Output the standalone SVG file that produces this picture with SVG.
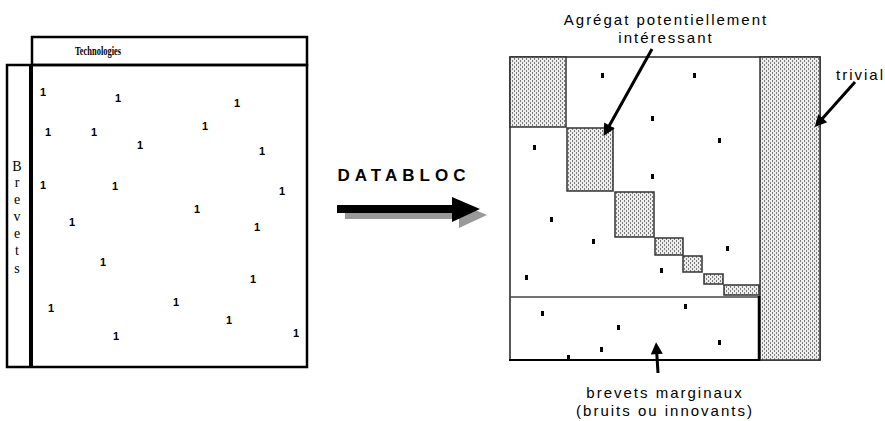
<svg xmlns="http://www.w3.org/2000/svg" width="885" height="421" viewBox="0 0 885 421">
<style>
.one{font-family:"Liberation Sans",Arial,Helvetica,sans-serif;font-size:11px;font-weight:bold;fill:#000;text-anchor:middle}
.lbl{font-family:"Liberation Sans",Arial,sans-serif;font-size:15px;letter-spacing:2px;fill:#000;text-anchor:middle}
.ser{font-family:"Liberation Serif","Times New Roman",serif;font-size:14px;fill:#000;text-anchor:middle}
.blk{fill:url(#dots);stroke:#333;stroke-width:1.5}
.dot{fill:#000}
.arr{stroke:#000;stroke-width:3;fill:none;marker-end:url(#ah)}
</style>
<defs>
<pattern id="dots" width="4" height="4" patternUnits="userSpaceOnUse">
<rect width="4" height="4" fill="#eeeeee"/>
<rect x="0" y="0" width="1" height="2" fill="#7a7a7a"/>
<rect x="2" y="2" width="1" height="2" fill="#7a7a7a"/>
</pattern>
<marker id="ah" viewBox="0 0 10 10" refX="4.3" refY="5" markerWidth="14" markerHeight="12" markerUnits="userSpaceOnUse" orient="auto">
<path d="M0,0 L10,5 L0,10 z" fill="#000"/>
</marker>
</defs>
<rect width="885" height="421" fill="#fff"/>

<g id="left-matrix">
<rect x="32" y="37" width="275" height="28" fill="none" stroke="#000" stroke-width="2.5"/>
<text x="98" y="55" font-family="Liberation Serif,serif" font-size="12" font-weight="bold" textLength="46" lengthAdjust="spacingAndGlyphs" text-anchor="middle">Technologies</text>
<rect x="7" y="65" width="300" height="302" fill="none" stroke="#000" stroke-width="2.5"/>
<rect x="29" y="65" width="4" height="302" fill="#000"/>
<g class="ser">
<text x="17" y="171">B</text>
<text x="17" y="187">r</text>
<text x="17" y="204">e</text>
<text x="17" y="221">v</text>
<text x="17" y="238">e</text>
<text x="17" y="255">t</text>
<text x="17" y="273">s</text>
</g>
<g class="one" font-family="Liberation Sans, Arial, sans-serif" font-weight="bold">
<text x="43" y="96">1</text>
<text x="118" y="102">1</text>
<text x="237" y="107">1</text>
<text x="48" y="136">1</text>
<text x="94" y="136">1</text>
<text x="205" y="130">1</text>
<text x="140" y="149">1</text>
<text x="262" y="155">1</text>
<text x="43" y="189">1</text>
<text x="115" y="190">1</text>
<text x="282" y="195">1</text>
<text x="197" y="213">1</text>
<text x="72" y="226">1</text>
<text x="257" y="231">1</text>
<text x="103" y="266">1</text>
<text x="253" y="283">1</text>
<text x="51" y="312">1</text>
<text x="176" y="306">1</text>
<text x="229" y="324">1</text>
<text x="296" y="337">1</text>
<text x="116" y="340">1</text>
</g>
</g>

<g id="databloc">
<text x="404" y="181" font-family="Liberation Sans,Arial,sans-serif" font-size="17" font-weight="bold" letter-spacing="5" text-anchor="middle">DATABLOC</text>
<polygon points="345,211 459,211 459,203 487,215 459,228 459,219 345,219" fill="#999"/>
<polygon points="337,205 452,205 452,197 480,209 452,222 452,213 337,213" fill="#000"/>
</g>

<g id="right-matrix">
<rect x="510" y="57" width="310" height="303" fill="#fff" stroke="#222" stroke-width="1.5"/>
<rect x="760" y="57" width="60" height="303" class="blk" stroke="#333"/>
<rect x="510" y="57" width="56" height="70" class="blk"/>
<rect x="567" y="128" width="46" height="63" class="blk"/>
<rect x="615" y="192" width="39" height="45" class="blk"/>
<rect x="655" y="238" width="28" height="17" class="blk"/>
<rect x="683" y="256" width="19" height="16" class="blk"/>
<rect x="704" y="274" width="19" height="10" class="blk"/>
<rect x="724" y="285" width="35" height="10" class="blk"/>
<g id="marginal-band">
<line x1="510" y1="297" x2="759" y2="297" stroke="#444" stroke-width="1.5"/>
<line x1="759" y1="296" x2="759" y2="361" stroke="#000" stroke-width="2.5"/>
<line x1="509" y1="360" x2="760" y2="360" stroke="#000" stroke-width="2"/>
</g>
<g class="dot">
<rect x="601" y="73" width="3" height="5"/>
<rect x="693" y="73" width="3" height="5"/>
<rect x="651" y="116" width="3" height="5"/>
<rect x="533" y="145" width="3" height="5"/>
<rect x="718" y="138" width="3" height="5"/>
<rect x="651" y="174" width="3" height="5"/>
<rect x="550" y="217" width="3" height="5"/>
<rect x="592" y="239" width="3" height="5"/>
<rect x="726" y="246" width="3" height="5"/>
<rect x="525" y="275" width="3" height="5"/>
<rect x="660" y="268" width="3" height="5"/>
<rect x="541" y="311" width="3" height="5"/>
<rect x="684" y="304" width="3" height="5"/>
<rect x="617" y="325" width="3" height="5"/>
<rect x="600" y="347" width="3" height="5"/>
<rect x="718" y="340" width="3" height="5"/>
<rect x="567" y="355" width="3" height="5"/>
</g>
</g>

<g id="label-agregat">
<text class="lbl" x="666" y="25">Agrégat potentiellement</text>
<text class="lbl" x="666" y="43">intéressant</text>
</g>
<g id="label-trivial">
<text class="lbl" x="836" y="80" style="text-anchor:start">trivial</text>
</g>
<g id="label-marginaux">
<text class="lbl" x="665" y="398">brevets marginaux</text>
<text class="lbl" x="665" y="416">(bruits ou innovants)</text>
</g>

<g id="connectors">
<line class="arr" x1="652" y1="49" x2="606.9" y2="130"/>
<line class="arr" x1="855" y1="82" x2="819.3" y2="122"/>
<line class="arr" x1="658" y1="373" x2="656.5" y2="349"/>
</g>
</svg>
